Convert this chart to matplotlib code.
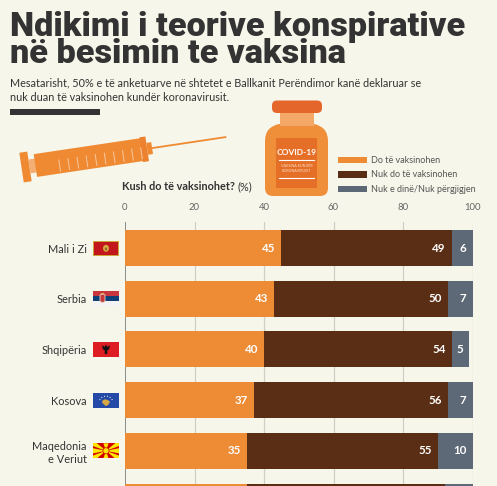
import matplotlib
matplotlib.use('Agg')
import matplotlib.pyplot as plt
import numpy as np
from matplotlib.patches import Rectangle, FancyBboxPatch, Polygon, Circle, Ellipse, PathPatch
from matplotlib.path import Path

# ---------------- data ----------------
countries = ["Mali i Zi", "Serbia", "Shqipëria", "Kosova", "Maqedonia\ne Veriut", "Bosnja dhe\nHercegovina"]
will_vacc = [45, 43, 40, 37, 35, 35]
wont_vacc = [49, 50, 54, 56, 55, 57]
dont_know = [6, 7, 5, 7, 10, 8]
series_names = ["Do të vaksinohen", "Nuk do të vaksinohen", "Nuk e dinë/Nuk përgjigjen"]
xticks = [0, 20, 40, 60, 80, 100]
flag_codes = ["ME", "RS", "AL", "XK", "MK", "BA"]

title_lines = ["Ndikimi i teorive konspirative", "në besimin te vaksina"]
subtitle_lines = ["Mesatarisht, 50% e të anketuarve në shtetet e Ballkanit Perëndimor kanë deklaruar se",
                  "nuk duan të vaksinohen kundër koronavirusit."]
chart_question = "Kush do të vaksinohet?"
chart_unit = "(%)"

# ---------------- style ----------------
plt.rcParams['font.family'] = ['Lato', 'DejaVu Sans']
BG = '#F6F6EA'
ORANGE = '#EE8B35'
BROWN = '#5A2E14'
GREY = '#5D6976'
DARK = '#333333'
colors = [ORANGE, BROWN, GREY]

W, H = 497, 486
fig = plt.figure(figsize=(W / 100, H / 100), dpi=100)
fig.patch.set_facecolor(BG)

cv = fig.add_axes([0, 0, 1, 1], zorder=0)
cv.set_xlim(0, W)
cv.set_ylim(H, 0)
cv.axis('off')
cv.set_facecolor('none')

renderer = fig.canvas.get_renderer()


def fit_width(t, w):
    bb = t.get_window_extent(renderer)
    t.set_fontsize(t.get_fontsize() * w / bb.width)


# ---------------- title & subtitle ----------------
TITLE_FONT = ['Roboto', 'DejaVu Sans']
t1 = cv.text(10, 35.7, title_lines[0], fontsize=26, fontweight='black', color=DARK, va='baseline',
             ha='left', family=TITLE_FONT)
fit_width(t1, 470)
t1.set_fontsize(t1.get_fontsize() * 0.97)
cv.text(10, 63.3, title_lines[1], fontsize=t1.get_fontsize(), fontweight='black', color=DARK,
        va='baseline', ha='left', family=TITLE_FONT)
s1 = cv.text(10, 86, subtitle_lines[0], fontsize=9, color=DARK, va='baseline', ha='left')
fit_width(s1, 410)
cv.text(10, 100.5, subtitle_lines[1], fontsize=s1.get_fontsize(), color=DARK, va='baseline', ha='left')
cv.add_patch(Rectangle((10, 108.7), 90, 6, color=DARK, lw=0))

# ---------------- syringe illustration ----------------
ang = np.deg2rad(8.5)
ox, oy = 25.5, 167.0
dvec = np.array([np.cos(ang), -np.sin(ang)])
pvec = np.array([np.sin(ang), np.cos(ang)])


def P(u, v):
    return tuple(np.array([ox, oy]) + u * dvec + v * pvec)


def quad(u0, u1, v0, v1, color, z=2):
    cv.add_patch(Polygon([P(u0, v0), P(u1, v0), P(u1, v1), P(u0, v1)], closed=True,
                         color=color, lw=0, zorder=z))

SYR = '#EF8A33'
SYR_L = '#F4AE74'
n0, n1 = P(127, 0), P(203, 0)
cv.plot([n0[0], n1[0]], [n0[1], n1[1]], color=SYR, lw=1.3, solid_capstyle='butt', zorder=2)
quad(-4, 4, -15, 15, SYR)
quad(4, 10.5, -7, 7, SYR_L)
quad(10, 118, -11.5, 11.5, SYR)
quad(117, 123, -12.5, 12.5, '#EC8230')
quad(123, 128, -6, 6, SYR)
for k in range(10):
    u = 34 + k * 9.2
    a, b = P(u, -2), P(u, 9)
    cv.plot([a[0], b[0]], [a[1], b[1]], color='#F8C79E', lw=0.7, zorder=3)

# ---------------- vial illustration ----------------
M, C3, L, CL = Path.MOVETO, Path.CURVE3, Path.LINETO, Path.CLOSEPOLY
verts = [(279, 124), (265, 127), (265, 141), (265, 188), (265, 196), (273, 196), (320, 196),
         (328, 196), (328, 188), (328, 141), (328, 127), (314, 124), (279, 124)]
codes = [M, C3, C3, L, C3, C3, L, C3, C3, L, C3, C3, CL]
cv.add_patch(PathPatch(Path(verts, codes), facecolor='#F08F3A', lw=0, zorder=2))
cv.add_patch(Rectangle((280, 112), 34, 14, color='#F4A867', lw=0, zorder=2))
cv.add_patch(FancyBboxPatch((272, 100.5), 50, 12.5, boxstyle='round,pad=0,rounding_size=5',
                            color='#E4662A', lw=0, zorder=3))
cv.add_patch(Rectangle((276, 138), 41, 50, color='#E56F27', lw=0, zorder=3))
cv.text(296.5, 152.5, "COVID-19", color='white', fontsize=6.0, fontweight='bold', ha='center',
        va='center', zorder=4)
cv.plot([279, 314], [160.5, 160.5], color='white', lw=0.8, zorder=4)
cv.text(296.5, 166, "VAKSINA KUNDËR", color='#FBE3CF', fontsize=2.6, ha='center', va='center', zorder=4)
cv.text(296.5, 171, "KORONAVIRUSIT", color='#FBE3CF', fontsize=2.6, ha='center', va='center', zorder=4)
cv.plot([279, 314], [178, 178], color='white', lw=0.8, zorder=4)

# ---------------- legend ----------------
leg_y = [160, 174.4, 189.2]
for name, col, yy in zip(series_names, colors, leg_y):
    cv.add_patch(Rectangle((338, yy - 3.3), 29, 6.6, color=col, lw=0))
    cv.text(371, yy, name, fontsize=6.5, color='#555555', ha='left', va='center')

# ---------------- chart header ----------------
hq = cv.text(122, 190, chart_question, fontsize=8.0, fontweight='bold', color=DARK, va='baseline', ha='left')
bbq = hq.get_window_extent(renderer)
hu = cv.text(122 + bbq.width + 3, 190, chart_unit, fontsize=8.0, color=DARK, va='baseline', ha='left')
tot = hu.get_window_extent(renderer).x1 - 122
sc = 131.0 / tot
hq.set_fontsize(8.0 * sc)
hu.set_fontsize(8.0 * sc)
bbq = hq.get_window_extent(renderer)
hu.set_x(122 + bbq.width + 3)

# ---------------- bar chart ----------------
left_px, right_px, top_px = 125, 472.5, 222
ax = fig.add_axes([left_px / W, 0, (right_px - left_px) / W, (H - top_px) / H], zorder=2)
ax.set_facecolor('none')
n = len(countries)
ypos = np.arange(n)

for x in xticks[1:]:
    ax.axvline(x, color='#CFCFC6', lw=0.9, zorder=0)
ax.axvline(0, color='#8C8C88', lw=1.4, zorder=0.5)

lefts = np.zeros(n)
for vals, col in zip([will_vacc, wont_vacc, dont_know], colors):
    vals = np.array(vals, dtype=float)
    ax.barh(ypos, vals, left=lefts, height=0.71, color=col, lw=0, zorder=2)
    for i in range(n):
        ax.annotate(f"{int(vals[i])}", xy=(lefts[i] + vals[i], ypos[i]), xytext=(-6, 0),
                    textcoords='offset pixels', ha='right', va='center', color='white',
                    fontsize=8.3, fontweight='bold', zorder=3, annotation_clip=True)
    lefts = lefts + vals

for s in ax.spines.values():
    s.set_visible(False)
ax.xaxis.tick_top()
ax.set_xticks(xticks)
ax.set_xticklabels([str(t) for t in xticks])
ax.tick_params(axis='x', length=0, pad=7.5, labelsize=6.8, labelcolor='#666666')
ax.set_yticks(ypos)
ax.set_yticklabels(countries)
ax.tick_params(axis='y', length=0, pad=27.5, labelsize=7.9, labelcolor=DARK)
ax.set_xlim(0, 100)
ax.set_ylim(4.694, -0.513)

# ---------------- flags ----------------
fx, fw, fh = 93, 26, 15


def row_center_px(i):
    d = ax.transData.transform((0, i))
    return H - d[1]


def draw_flag(code, yc):
    x0, y0 = fx, yc - fh / 2
    cx, cy = x0 + fw / 2, yc

    def add(p):
        cv.add_patch(p)
        p.set_clip_path(base)
        return p

    if code == "ME":
        base = Rectangle((x0, y0), fw, fh, color='#C9A53A', lw=0, zorder=2)
        cv.add_patch(base)
        add(Rectangle((x0 + 1, y0 + 1), fw - 2, fh - 2, color='#C3161C', lw=0, zorder=3))
        add(Ellipse((cx, cy + 0.3), 6, 7, color='#D5A940', lw=0, zorder=4))
        add(Ellipse((cx, cy + 1), 2.4, 3, color='#A4682C', lw=0, zorder=5))
    elif code == "RS":
        base = Rectangle((x0, y0), fw, fh, color='white', lw=0, zorder=2)
        cv.add_patch(base)
        add(Rectangle((x0, y0), fw, fh / 3, color='#C6363C', lw=0, zorder=3))
        add(Rectangle((x0, y0 + fh / 3), fw, fh / 3, color='#0C4076', lw=0, zorder=3))
        add(Rectangle((x0, y0 + 2 * fh / 3), fw, fh / 3, color='#F4F4F4', lw=0, zorder=3))
        add(FancyBboxPatch((x0 + 7, y0 + 3), 5, 8, boxstyle='round,pad=0,rounding_size=1.5',
                           facecolor='#C6363C', edgecolor='#E8D9C0', lw=0.6, zorder=4))
        add(Rectangle((x0 + 7.8, y0 + 1.5), 3.4, 1.6, color='#D9B25A', lw=0, zorder=4))
    elif code == "AL":
        base = Rectangle((x0, y0), fw, fh, color='#DD1C24', lw=0, zorder=2)
        cv.add_patch(base)
        pts = [(-4, -4), (-1.2, -2.5), (0, -5), (1.2, -2.5), (4, -4), (3, 0), (1.2, 1), (1.4, 4),
               (0, 5), (-1.4, 4), (-1.2, 1), (-3, 0)]
        add(Polygon([(cx + a, cy + b) for a, b in pts], closed=True, color='#111111', lw=0, zorder=3))
    elif code == "XK":
        base = Rectangle((x0, y0), fw, fh, color='#2449A6', lw=0, zorder=2)
        cv.add_patch(base)
        pts = [(-4, 0), (-1.5, -1.8), (1.5, -1.2), (4, 0.5), (2.5, 3.5), (0, 5), (-2, 3.5), (-3.5, 2)]
        add(Polygon([(cx + a, cy + 1 + b) for a, b in pts], closed=True, color='#D6A843', lw=0, zorder=3))
        for k in range(6):
            a = np.deg2rad(150 - k * 24)
            add(Circle((cx + 7 * np.cos(a), cy + 3 - 7 * np.sin(a)), 0.55, color='white', lw=0, zorder=3))
    elif code == "MK":
        base = Rectangle((x0, y0), fw, fh, color='#D20000', lw=0, zorder=2)
        cv.add_patch(base)
        ends = [(x0, y0), (x0 + fw, y0), (x0, y0 + fh), (x0 + fw, y0 + fh),
                (cx, y0), (cx, y0 + fh), (x0, cy), (x0 + fw, cy)]
        for ex, ey in ends:
            dx, dy = ex - cx, ey - cy
            ln = np.hypot(dx, dy)
            px, py = -dy / ln, dx / ln
            hw = 2.6
            add(Polygon([(cx, cy), (ex + px * hw, ey + py * hw), (ex - px * hw, ey - py * hw)],
                        closed=True, color='#FFE600', lw=0, zorder=3))
        add(Circle((cx, cy), 3.4, color='#D20000', lw=0, zorder=4))
        add(Circle((cx, cy), 2.7, color='#FFE600', lw=0, zorder=5))
    elif code == "BA":
        base = Rectangle((x0, y0), fw, fh, color='#002395', lw=0, zorder=2)
        cv.add_patch(base)
        add(Polygon([(x0 + 7, y0), (x0 + 19, y0), (x0 + 19, y0 + fh)], closed=True,
                    color='#FECB00', lw=0, zorder=3))


for i, code in enumerate(flag_codes):
    draw_flag(code, row_center_px(i))

fig.savefig('out.png', dpi=100, facecolor=BG)
